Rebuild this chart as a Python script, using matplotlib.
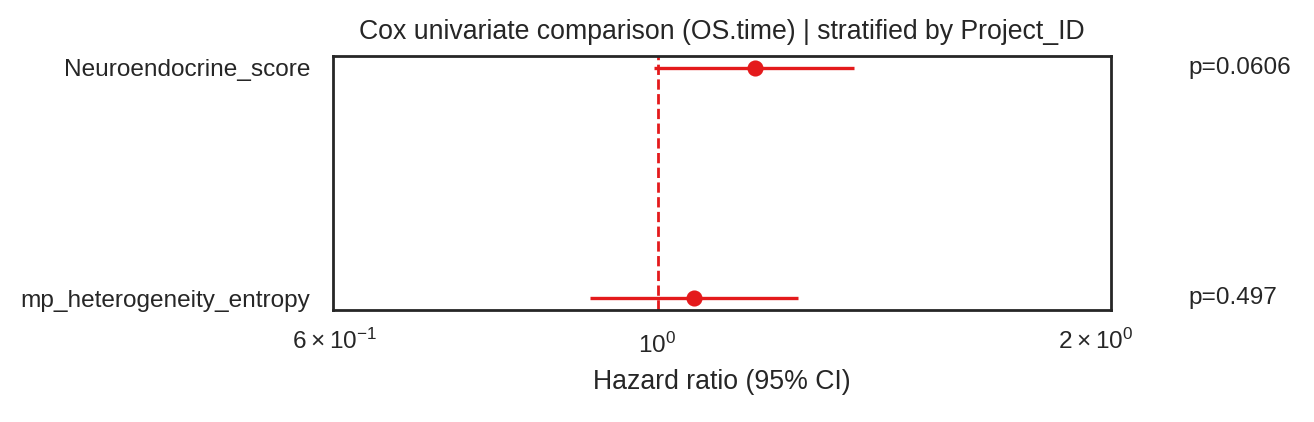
import matplotlib
matplotlib.use("Agg")
import matplotlib.pyplot as plt
import matplotlib.transforms as mtransforms
import numpy as np
import seaborn as sns

# data
variables = ["Neuroendocrine_score", "mp_heterogeneity_entropy"]
hr = [1.166, 1.059]
ci_lo = [0.995, 0.898]
ci_hi = [1.365, 1.248]
pvals = ["p=0.0606", "p=0.497"]

sns.set_theme(style="white", context="paper")
plt.rcParams['font.family'] = ['Liberation Sans', 'DejaVu Sans']

red = "#e41a1c"

fig, ax = plt.subplots(figsize=(6.57, 2.11), dpi=200)
fig.subplots_adjust(left=0.2534, right=0.8455, top=0.8673, bottom=0.2654)

y = np.arange(len(variables))
hr_a = np.array(hr)
err = [hr_a - np.array(ci_lo), np.array(ci_hi) - hr_a]
ax.errorbar(hr_a, y, xerr=err, fmt='o', color=red, ecolor=red, capsize=0)
ax.axvline(1, color=red, ls='--', lw=1)

ax.set_xscale('log')
ax.set_xlim(min(ci_lo) / 1.5, max(ci_hi) * 1.5)
ax.set_yticks(y)
ax.set_yticklabels(variables)
ax.invert_yaxis()

trans = mtransforms.blended_transform_factory(ax.transAxes, ax.transData)
for yi, p in zip(y, pvals):
    ax.text(1.10, yi, p, transform=trans, ha='left', va='center', fontsize=8.8)

ax.set_xlabel("Hazard ratio (95% CI)")
ax.set_title("Cox univariate comparison (OS.time) | stratified by Project_ID")

fig.savefig("out.png", dpi=200)
